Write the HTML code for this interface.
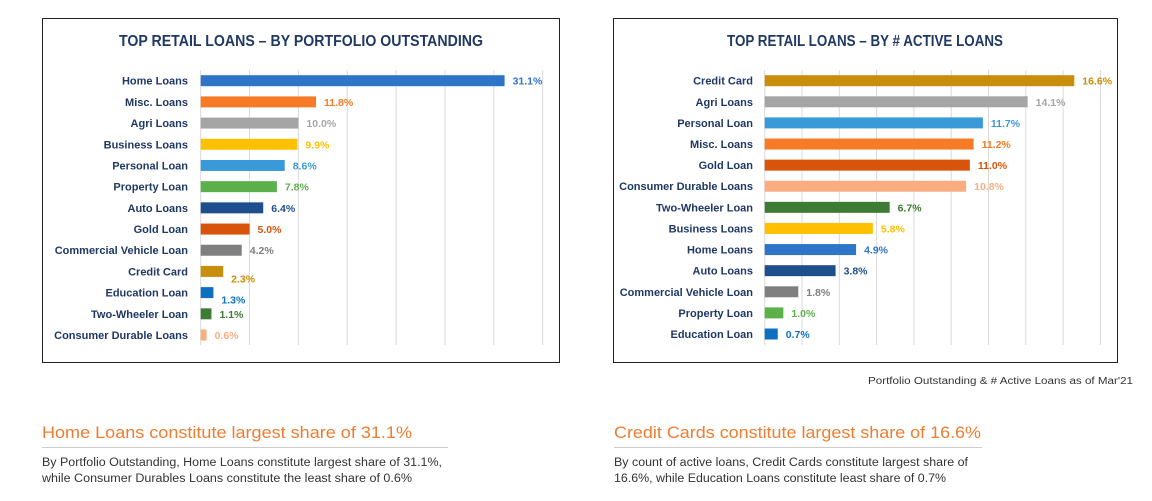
<!DOCTYPE html>
<html><head><meta charset="utf-8"><style>
html,body{margin:0;padding:0;background:#fff;}
svg{display:block;font-family:"Liberation Sans",sans-serif;}
</style></head><body>
<svg id="s" width="1152" height="501" viewBox="0 0 1152 501" xmlns="http://www.w3.org/2000/svg">
<rect x="42.5" y="18.5" width="517" height="344" fill="#fff" stroke="#222" stroke-width="1"/>
<rect x="613.5" y="18.5" width="504" height="344" fill="#fff" stroke="#222" stroke-width="1"/>
<text x="119" y="46" textLength="364" lengthAdjust="spacingAndGlyphs" font-size="16" font-weight="bold" fill="#1f3864">TOP RETAIL LOANS – BY PORTFOLIO OUTSTANDING</text>
<text x="727" y="46" textLength="276" lengthAdjust="spacingAndGlyphs" font-size="16" font-weight="bold" fill="#1f3864">TOP RETAIL LOANS – BY # ACTIVE LOANS</text>
<g id="c1"></g><g id="c2"></g>
<text x="1133" y="384" text-anchor="end" font-size="10" textLength="265" lengthAdjust="spacingAndGlyphs" fill="#333">Portfolio Outstanding &amp; # Active Loans as of Mar'21</text>
<text x="42" y="438" font-size="17" textLength="370" lengthAdjust="spacingAndGlyphs" fill="#ed7d31">Home Loans constitute largest share of 31.1%</text>
<line x1="42" y1="447.5" x2="448" y2="447.5" stroke="#ccc" stroke-width="1"/>
<text x="42" y="466" font-size="11.5" textLength="400" lengthAdjust="spacingAndGlyphs" fill="#333">By Portfolio Outstanding, Home Loans constitute largest share of 31.1%,</text>
<text x="42" y="482" font-size="11.5" textLength="370" lengthAdjust="spacingAndGlyphs" fill="#333">while Consumer Durables Loans constitute the least share of 0.6%</text>
<text x="614" y="438" font-size="17" textLength="367" lengthAdjust="spacingAndGlyphs" fill="#ed7d31">Credit Cards constitute largest share of 16.6%</text>
<line x1="614" y1="447.5" x2="982" y2="447.5" stroke="#ccc" stroke-width="1"/>
<text x="614" y="466" font-size="11.5" textLength="354" lengthAdjust="spacingAndGlyphs" fill="#333">By count of active loans, Credit Cards constitute largest share of</text>
<text x="614" y="482" font-size="11.5" textLength="332" lengthAdjust="spacingAndGlyphs" fill="#333">16.6%, while Education Loans constitute least share of 0.7%</text>
</svg>
<script>
const cats1 = ["Home Loans","Misc. Loans","Agri Loans","Business Loans","Personal Loan","Property Loan","Auto Loans","Gold Loan","Commercial Vehicle Loan","Credit Card","Education Loan","Two-Wheeler Loan","Consumer Durable Loans"];
const vals1 = [31.1,11.8,10.0,9.9,8.6,7.8,6.4,5.0,4.2,2.3,1.3,1.1,0.6];
const ticks1 = [0,5,10,15,20,25,30,35];
const cats2 = ["Credit Card","Agri Loans","Personal Loan","Misc. Loans","Gold Loan","Consumer Durable Loans","Two-Wheeler Loan","Business Loans","Home Loans","Auto Loans","Commercial Vehicle Loan","Property Loan","Education Loan"];
const vals2 = [16.6,14.1,11.7,11.2,11.0,10.8,6.7,5.8,4.9,3.8,1.8,1.0,0.7];
const ticks2 = [0,2,4,6,8,10,12,14,16,18];
const colorOf = {"Home Loans":"#2e75c8","Misc. Loans":"#f77b27","Agri Loans":"#a5a5a5","Business Loans":"#ffc000","Personal Loan":"#3a9ad9","Property Loan":"#5bb04c","Auto Loans":"#1f4e8c","Gold Loan":"#d9540b","Commercial Vehicle Loan":"#7f7f7f","Credit Card":"#c98e0b","Education Loan":"#0e70c0","Two-Wheeler Loan":"#3e7b34","Consumer Durable Loans":"#f9ae82"};
const NS="http://www.w3.org/2000/svg";
function mk(tag,attrs,parent){const e=document.createElementNS(NS,tag);for(const k in attrs)e.setAttribute(k,attrs[k]);parent.appendChild(e);return e;}
function draw(gid,cats,vals,ticks,x0,x1,labelX,y0,y1){
  const g=document.getElementById(gid);
  const max=ticks[ticks.length-1];
  const xs=v=>x0+(v/max)*(x1-x0);
  const step=(y1-y0)/(cats.length-1);
  const ys=i=>y0+i*step;
  ticks.forEach(t=>{
    const l=mk('line',{x1:xs(t),x2:xs(t),y1:70,y2:345,stroke:'#d9d9d9','stroke-width':1},g);
    
    
  });
  cats.forEach((c,i)=>{
    const y=ys(i), col=colorOf[c];
    const lb=mk('text',{x:labelX,y:y+4,'text-anchor':'end','font-size':11,'font-weight':'bold',fill:'#1f3864'},g);
    lb.textContent=c;
    
    
    const r=mk('rect',{x:x0,y:y-5.5,width:xs(vals[i])-x0,height:11,fill:col},g);
    
    
    const small=(xs(vals[i])-x0)<30 && i<cats.length-2;
    const vt=mk('text',{x:xs(vals[i])+8,y:y+4+(small&&gid==='c1'?7:0),'font-size':10.5,'font-weight':'bold',fill:col},g);
    vt.textContent=vals[i].toFixed(1)+'%';
    
    
  });
}
draw('c1',cats1,vals1,ticks1,200.7,542.7,188,80.7,335);
draw('c2',cats2,vals2,ticks2,764.7,1100.4,753,80.7,334);
</script>
</body></html>
